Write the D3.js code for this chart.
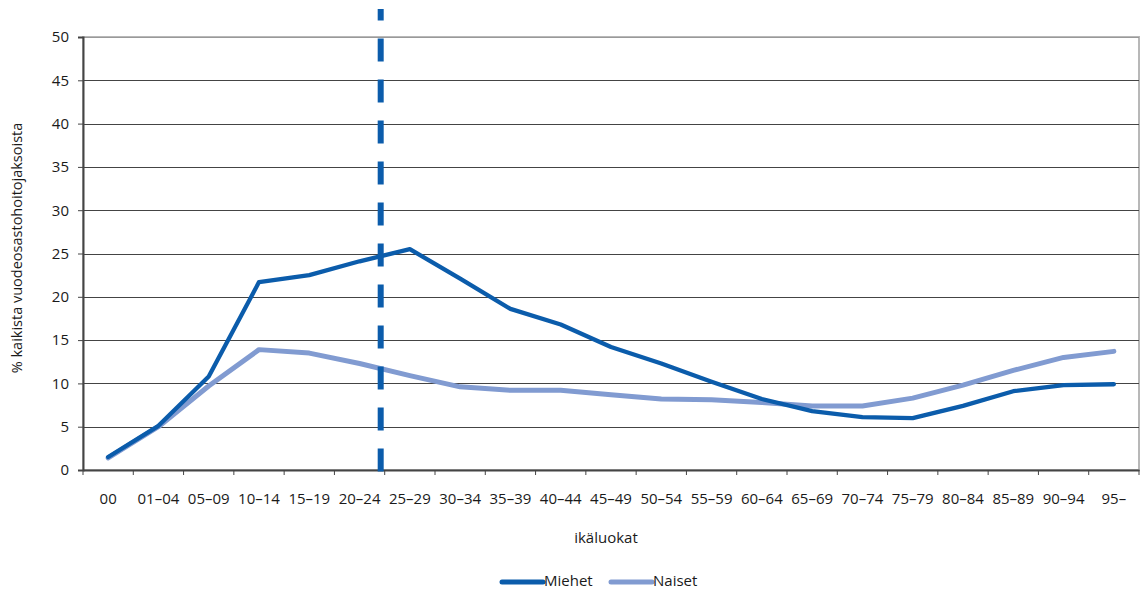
<!DOCTYPE html>
<html>
<head>
<meta charset="utf-8">
<script src="https://cdn.jsdelivr.net/npm/d3@7"></script>
<style>
  html, body { margin: 0; padding: 0; background: #fff; }
  svg { display: block; font-family: "Open Sans", "Noto Sans", sans-serif; }
</style>
</head>
<body>
<svg id="chart" width="1145" height="592"></svg>
<script>
// ---- data ----
const categories = ["00","01–04","05–09","10–14","15–19","20–24","25–29","30–34","35–39","40–44","45–49","50–54","55–59","60–64","65–69","70–74","75–79","80–84","85–89","90–94","95–"];
const miehet = [1.5, 5.1, 10.8, 21.7, 22.5, 24.1, 25.5, 22.1, 18.6, 16.8, 14.2, 12.3, 10.2, 8.2, 6.8, 6.1, 6.0, 7.4, 9.1, 9.8, 9.9];
const naiset = [1.4, 5.0, 9.7, 13.9, 13.5, 12.3, 10.9, 9.6, 9.2, 9.2, 8.7, 8.2, 8.1, 7.8, 7.4, 7.4, 8.3, 9.8, 11.5, 13.0, 13.7];
const yTicks = [0, 5, 10, 15, 20, 25, 30, 35, 40, 45, 50];
const seriesNames = ["Miehet", "Naiset"];
const seriesColors = ["#0b5cab", "#819bd1"];
const cutoffIndex = 5.42; // dashed reference line position (category index units)
const yTitle = "% kaikista vuodeosastohoitojaksoista";
const xTitle = "ikäluokat";

// ---- layout ----
const svg = d3.select("#chart");
const pL = 83, pR = 1139, pT = 37, pB = 470;
const textCol = "#1a1a1a";

const x = d3.scaleBand().domain(categories).range([pL, pR]).paddingInner(0).paddingOuter(0);
const xc = d => x(d) + x.bandwidth() / 2;
const xIdx = d3.scaleLinear().domain([0, categories.length - 1]).range([xc(categories[0]), xc(categories[categories.length - 1])]);
const y = d3.scaleLinear().domain([0, 50]).range([pB, pT]);

// plot border (light)
svg.append("rect")
  .attr("x", pL).attr("y", pT)
  .attr("width", pR - pL).attr("height", pB - pT)
  .attr("fill", "none").attr("stroke", "#b8b8b8").attr("stroke-width", 2);

// gridlines
svg.append("g").selectAll("line").data(yTicks.filter(t => t > 0)).join("line")
  .attr("x1", pL).attr("x2", pR)
  .attr("y1", d => Math.round(y(d)) + 0.5).attr("y2", d => Math.round(y(d)) + 0.5)
  .attr("stroke", d => d === 50 ? "#999" : "#444").attr("stroke-width", 1);

// y axis
const yAxis = svg.append("g").attr("transform", `translate(${pL},0)`)
  .call(d3.axisLeft(y).tickValues(yTicks).tickSize(5).tickPadding(9));
yAxis.select(".domain").attr("stroke", "#444").attr("stroke-width", 2);
yAxis.selectAll(".tick line").attr("stroke", "#444");
yAxis.selectAll("text").attr("font-size", 15).attr("fill", textCol)
  .attr("font-family", "'Open Sans', sans-serif");

// x axis
const xAxis = svg.append("g").attr("transform", `translate(0,${pB})`)
  .call(d3.axisBottom(x).tickSize(0).tickPadding(23));
xAxis.select(".domain").attr("stroke", "#444").attr("stroke-width", 2);
xAxis.selectAll("text").attr("font-size", 15).attr("fill", textCol)
  .attr("font-family", "'Open Sans', sans-serif");
// boundary ticks
const bounds = categories.map(c => x(c)).concat([pR]);
svg.append("g").selectAll("line").data(bounds).join("line")
  .attr("x1", d => d).attr("x2", d => d)
  .attr("y1", pB).attr("y2", pB + 5)
  .attr("stroke", "#444").attr("stroke-width", 1);

// lines
const line = d3.line().x((d, i) => xc(categories[i])).y(d => y(d));
[naiset, miehet].forEach((s, k) => {
  const idx = k === 0 ? 1 : 0;
  svg.append("path").datum(s)
    .attr("d", line)
    .attr("fill", "none")
    .attr("stroke", seriesColors[idx])
    .attr("stroke-width", idx === 0 ? 4.3 : 5)
    .attr("stroke-linejoin", "round")
    .attr("stroke-linecap", "round");
});

// dashed reference line (drawn from bottom up)
const xCut = xIdx(cutoffIndex);
svg.append("line")
  .attr("x1", xCut).attr("x2", xCut)
  .attr("y1", y(0) + 1.5).attr("y2", 9)
  .attr("stroke", seriesColors[0]).attr("stroke-width", 6)
  .attr("stroke-dasharray", "23,18");

// axis titles
svg.append("text")
  .attr("transform", `translate(18,248) rotate(-90)`)
  .attr("text-anchor", "middle").attr("dominant-baseline", "middle")
  .attr("font-size", 14.5).attr("fill", textCol)
  .text(yTitle);
svg.append("text")
  .attr("x", 606).attr("y", 539)
  .attr("text-anchor", "middle").attr("dominant-baseline", "middle")
  .attr("font-size", 15).attr("fill", textCol)
  .text(xTitle);

// legend
const legendX = [502, 611];
seriesNames.forEach((n, i) => {
  const g = svg.append("g").attr("transform", `translate(${legendX[i]},582)`);
  g.append("line").attr("x1", 0).attr("x2", 41).attr("y1", 0).attr("y2", 0)
    .attr("stroke", seriesColors[i]).attr("stroke-width", 5).attr("stroke-linecap", "round");
  g.append("text").attr("x", 42).attr("y", 0).attr("dominant-baseline", "middle")
    .attr("font-size", 15).attr("fill", textCol).text(n);
});
</script>
</body>
</html>
